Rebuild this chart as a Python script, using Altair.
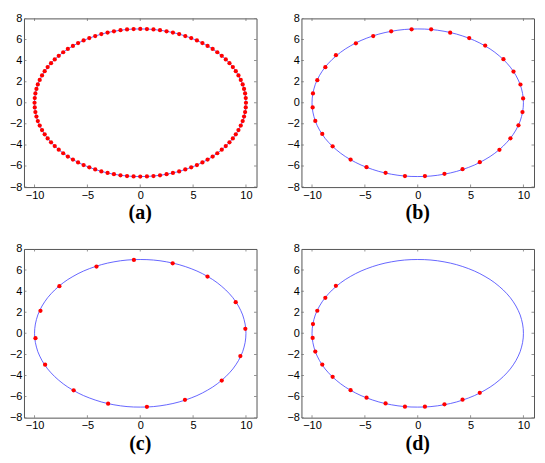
import altair as alt
import pandas as pd

# Dense ellipse samples (panel a points, also used as the blue curve)
EX = [10.0, 9.98, 9.92, 9.82, 9.69, 9.51, 9.29, 9.04, 8.76, 8.44, 8.09, 7.71, 7.29, 6.85, 6.37, 5.88,
      5.36, 4.82, 4.26, 3.68, 3.09, 2.49, 1.87, 1.25, 0.63, 0.0,
      -0.63, -1.25, -1.87, -2.49, -3.09, -3.68, -4.26, -4.82, -5.36, -5.88, -6.37, -6.85, -7.29, -7.71,
      -8.09, -8.44, -8.76, -9.04, -9.29, -9.51, -9.69, -9.82, -9.92, -9.98, -10.0,
      -9.98, -9.92, -9.82, -9.69, -9.51, -9.29, -9.04, -8.76, -8.44, -8.09, -7.71, -7.29, -6.85, -6.37,
      -5.88, -5.36, -4.82, -4.26, -3.68, -3.09, -2.49, -1.87, -1.25, -0.63, 0.0,
      0.63, 1.25, 1.87, 2.49, 3.09, 3.68, 4.26, 4.82, 5.36, 5.88, 6.37, 6.85, 7.29, 7.71, 8.09, 8.44,
      8.76, 9.04, 9.29, 9.51, 9.69, 9.82, 9.92, 9.98]
EY = [0.0, 0.44, 0.88, 1.31, 1.74, 2.16, 2.59, 2.99, 3.38, 3.75, 4.11, 4.45, 4.79, 5.10, 5.39, 5.66,
      5.91, 6.13, 6.33, 6.51, 6.66, 6.78, 6.88, 6.95, 6.99, 7.0,
      6.99, 6.95, 6.88, 6.78, 6.66, 6.51, 6.33, 6.13, 5.91, 5.66, 5.39, 5.10, 4.79, 4.45,
      4.11, 3.75, 3.38, 2.99, 2.59, 2.16, 1.74, 1.31, 0.88, 0.44, 0.0,
      -0.44, -0.88, -1.31, -1.74, -2.16, -2.59, -2.99, -3.38, -3.75, -4.11, -4.45, -4.79, -5.10, -5.39,
      -5.66, -5.91, -6.13, -6.33, -6.51, -6.66, -6.78, -6.88, -6.95, -6.99, -7.0,
      -6.99, -6.95, -6.88, -6.78, -6.66, -6.51, -6.33, -6.13, -5.91, -5.66, -5.39, -5.10, -4.79, -4.45,
      -4.11, -3.75, -3.38, -2.99, -2.59, -2.16, -1.74, -1.31, -0.88, -0.44]

# Panel (b)
BX = [-0.58, 1.27, 3.07, 4.87, 6.38, 8.11, 9.06, 9.72, 9.97, 9.91, 9.53, 8.77, 7.73, 5.87, 4.24, 2.53,
      0.68, -1.21, -3.04, -4.84, -6.35, -8.05, -9.03, -9.69, -9.94, -9.91, -9.50, -8.74, -7.74, -5.85,
      -4.21, -2.51]
BY = [6.96, 6.96, 6.65, 6.14, 5.42, 4.13, 2.96, 1.73, 0.41, -0.88, -2.14, -3.37, -4.47, -5.64, -6.30,
      -6.74, -6.96, -6.96, -6.65, -6.11, -5.39, -4.13, -2.96, -1.73, -0.44, 0.88, 2.14, 3.37, 4.51, 5.64,
      6.33, 6.77]

# Panel (c)
CX = [-0.60, 3.07, 6.36, 9.03, 9.94, 9.47, 7.71, 4.23, 0.63, -3.04, -6.30, -9.00, -9.91, -9.44, -7.65, -4.14]
CY = [6.96, 6.64, 5.38, 2.95, 0.43, -2.16, -4.48, -6.31, -6.97, -6.67, -5.41, -2.98, -0.46, 2.13, 4.47, 6.33]

# Panel (d)
DX = [-7.74, -8.74, -9.50, -9.91, -9.94, -9.69, -9.03, -8.05, -6.35, -4.84, -3.04, -1.21, 0.68, 2.53, 4.24, 5.87]
DY = [4.51, 3.37, 2.14, 0.88, -0.44, -1.73, -2.96, -4.13, -5.39, -6.11, -6.65, -6.96, -6.96, -6.74, -6.30, -5.64]

XTICKS = [-10, -5, 0, 5, 10]
YTICKS = [-8, -6, -4, -2, 0, 2, 4, 6, 8]
XDOM = [-11, 11]
YDOM = [-8, 8]
LABELS = ["(a)", "(b)", "(c)", "(d)"]


def panel(px, py, label):
    pts = pd.DataFrame({"x": px, "y": py})
    ell = pd.DataFrame({"x": EX + [EX[0]], "y": EY + [EY[0]], "k": list(range(len(EX) + 1))})
    xs = alt.Scale(domain=XDOM, nice=False, zero=False)
    ys = alt.Scale(domain=YDOM, nice=False, zero=False)
    xax = alt.Axis(values=XTICKS, ticks=False, domain=False, grid=False, labelPadding=2, title=None)
    yax = alt.Axis(values=YTICKS, ticks=False, domain=False, grid=False, labelPadding=2, title=None)

    def X():
        return alt.X("x:Q", scale=xs, axis=xax)

    def Y():
        return alt.Y("y:Q", scale=ys, axis=yax)

    line = alt.Chart(ell).mark_line(color="#4040ff", strokeWidth=0.8).encode(x=X(), y=Y(), order="k:Q")
    dots = alt.Chart(pts).mark_point(filled=True, shape="circle", size=18, color="#ff0000",
                                     opacity=1).encode(x=X(), y=Y())
    xt_df = pd.DataFrame({"x": XTICKS * 2, "y": [YDOM[0]] * len(XTICKS) + [YDOM[1]] * len(XTICKS)})
    yt_df = pd.DataFrame({"y": YTICKS * 2, "x": [XDOM[0]] * len(YTICKS) + [XDOM[1]] * len(YTICKS)})
    xt = alt.Chart(xt_df).mark_tick(orient="vertical", size=5, thickness=1, color="#666",
                                    clip=True).encode(x=X(), y=Y())
    yt = alt.Chart(yt_df).mark_tick(orient="horizontal", size=5, thickness=1, color="#666",
                                    clip=True).encode(x=X(), y=Y())
    return alt.layer(line, dots, xt, yt).properties(
        width=233, height=169,
        title=alt.TitleParams(text=label, orient="bottom", font="Liberation Serif", fontSize=20,
                              fontWeight="bold", color="black", offset=3, anchor="middle"))


a = panel(EX, EY, LABELS[0])
b = panel(BX, BY, LABELS[1])
c = panel(CX, CY, LABELS[2])
d = panel(DX, DY, LABELS[3])

chart = alt.vconcat(
    alt.hconcat(a, b, spacing=28),
    alt.hconcat(c, d, spacing=28),
    spacing=18,
).configure(
    padding={"left": 0, "top": 3, "right": 2, "bottom": 2}
).configure_view(
    stroke="#555", strokeWidth=1
).configure_axis(
    labelFont="Liberation Sans", labelFontSize=11, labelColor="black"
)

chart.save("out.html", embed_options={"renderer": "svg", "actions": False})
